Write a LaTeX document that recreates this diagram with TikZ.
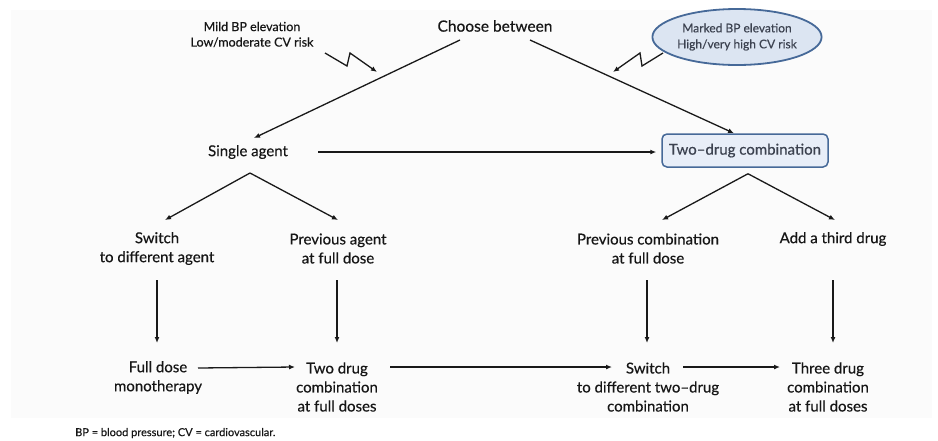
\documentclass[tikz,border=0pt]{standalone}
\usepackage{fontspec}
\setmainfont{Lato}[FakeBold=0.4]
\usetikzlibrary{arrows.meta,shapes.geometric,calc}
\definecolor{panelgray}{RGB}{251,251,251}
\definecolor{txt}{RGB}{22,22,22}
\definecolor{bluebd}{RGB}{70,105,152}
\definecolor{bluefill}{RGB}{232,238,248}
\definecolor{ellfill}{RGB}{220,229,242}
\definecolor{softtxt}{RGB}{60,66,80}
\tikzset{
  lbl/.style={align=center, inner sep=0pt, text=txt, font=\fontsize{15}{19}\selectfont},
  small/.style={align=center, inner sep=0pt, text=txt, font=\fontsize{12.5}{15.5}\selectfont},
  arr/.style={line width=1.3pt, draw=black!90, -{Latex[length=6pt,width=5pt]}}
}
\begin{document}
\begin{tikzpicture}[x=1pt,y=-1pt]
\useasboundingbox (0,0) rectangle (938,440);
\fill[panelgray] (11,10) rectangle (932,418);

\node[lbl, font=\fontsize{15.5}{19}\selectfont] (cb) at (495,26) {Choose between};
\node[small] (mild) at (252,34.5) {Mild BP elevation\\Low/moderate CV risk};
\node[ellipse, draw=bluebd, line width=1.8pt, fill=ellfill, minimum width=164pt, minimum height=56pt, inner sep=0pt, align=center, text=softtxt, font=\fontsize{12}{16}\selectfont] (marked) at (737,37) {Marked BP elevation\\High/very high CV risk};

\node[lbl] (sa) at (248,152) {Single agent};
\node[draw=bluebd, line width=1.5pt, fill=bluefill, rounded corners=5pt, minimum width=166pt, minimum height=33pt, inner sep=0pt, text=softtxt, font=\fontsize{15}{19}\selectfont] (two) at (745,150.5) {Two--drug combination};

\node[lbl] (sw) at (157,248.5) {Switch\\to different agent};
\node[lbl] (pa) at (338,248.5) {Previous agent\\at full dose};
\node[lbl] (pc) at (648,248.5) {Previous combination\\at full dose};
\node[lbl] (at) at (833,239) {Add a third drug};

\node[lbl] (fd) at (158,377.5) {Full dose\\monotherapy};
\node[lbl] (td) at (337,387) {Two drug\\combination\\at full doses};
\node[lbl] (sc) at (648,387) {Switch\\to different two--drug\\combination};
\node[lbl] (th) at (828,387) {Three drug\\combination\\at full doses};

\node[anchor=west, inner sep=0pt, text=txt, font=\fontsize{11}{13}\selectfont] (foot) at (75,433) {BP = blood pressure; CV = cardiovascular.};

\coordinate (zl) at (377,72);
\coordinate (zr) at (613,72);

% top branches
\draw[arr] ($(cb.center)+(-35,14)$) -- ($(sa.center)+(6,-14)$);
\draw[arr] ($(cb.center)+(35,14)$) -- ($(two.north)+(-11,0)$);
% zigzag arrows
\draw[arr] ($(mild.center)+(73,18.5)$) -- ++(22,13) -- ++(3,-13) -- (zl);
\draw[arr] ($(marked.center)+(-74,16)$) -- ++(-21,13) -- ++(-2,-13) -- (zr);

% single agent -> two drug
\draw[arr] ($(sa.center)+(70,0)$) -- ($(two.west)+(-5,1.5)$);

% splits
\draw[arr] ($(sa.center)+(2,21)$) -- ($(sw.center)+(8,-28.5)$);
\draw[arr] ($(sa.center)+(2,21)$) -- ($(pa.center)+(0,-28.5)$);
\draw[arr] ($(two.south)+(3,6)$) -- ($(pc.center)+(14,-28.5)$);
\draw[arr] ($(two.south)+(3,6)$) -- ($(at.center)+(2,-19)$);

% down arrows
\draw[arr] ($(sw.center)+(0,31.5)$) -- ($(fd.center)+(-1,-34.5)$);
\draw[arr] ($(pa.center)+(-1,31.5)$) -- ($(td.center)+(0,-44)$);
\draw[arr] ($(pc.center)+(-1,31.5)$) -- ($(sc.center)+(-1,-44)$);
\draw[arr] ($(at.center)+(0,41)$) -- ($(th.center)+(5,-44)$);

% bottom row
\draw[arr] ($(fd.center)+(40,-9.5)$) -- ($(td.center)+(-42,-20)$);
\draw[arr] ($(td.center)+(53,-20)$) -- ($(sc.center)+(-36,-20)$);
\draw[arr] ($(sc.center)+(35,-20)$) -- ($(th.center)+(-48,-20)$);
\end{tikzpicture}
\end{document}
